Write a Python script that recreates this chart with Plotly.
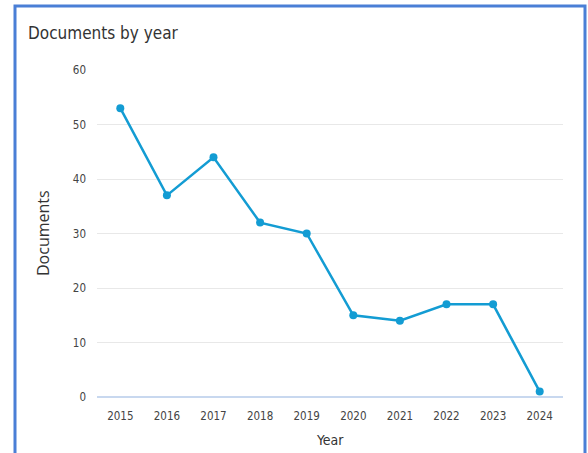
import plotly.graph_objects as go

years = ["2015", "2016", "2017", "2018", "2019", "2020", "2021", "2022", "2023", "2024"]
documents = [53, 37, 44, 32, 30, 15, 14, 17, 17, 1]
y_ticks = [0, 10, 20, 30, 40, 50, 60]

FONT = "DejaVu Sans Condensed, Liberation Sans Narrow, Open Sans, sans-serif"
LINE_COLOR = "#139cd3"

fig = go.Figure()
fig.add_trace(go.Scatter(
    x=years, y=documents, mode="lines+markers",
    line=dict(color=LINE_COLOR, width=2.5),
    marker=dict(color=LINE_COLOR, size=8),
    showlegend=False,
))

L, R, T, B = 97, 25, 70, 56
W, H = 588, 453
pw, ph = W - L - R, H - T - B

fig.update_layout(
    width=W, height=H,
    margin=dict(l=L, r=R, t=T, b=B),
    paper_bgcolor="white", plot_bgcolor="white",
    font=dict(family=FONT, color="#444", size=12),
    title=dict(text="Documents by year", x=28 / W, xref="container",
               xanchor="left", y=1 - 33 / H, yanchor="middle",
               font=dict(family=FONT, size=17, color="#333")),
    xaxis=dict(type="category", range=[-0.5, len(years) - 0.5],
               showgrid=False, zeroline=False, showline=False,
               ticks="", tickfont=dict(size=11.5, color="#444"), ticklabelstandoff=10),
    yaxis=dict(range=[0, 60], tickvals=y_ticks, showgrid=True, gridcolor="#e8e8e8",
               gridwidth=1, zeroline=True, zerolinecolor="#c8d8ef", zerolinewidth=2,
               showline=False, ticks="", tickfont=dict(size=11.5, color="#444"),
               ticklabelstandoff=10),
    annotations=[
        dict(text="Documents", xref="paper", yref="paper", x=(43 - L) / pw,
             y=(H - B - 233) / ph, textangle=-90, showarrow=False,
             xanchor="center", yanchor="middle",
             font=dict(family="Open Sans, sans-serif", size=16, color="#333")),
        dict(text="Year", xref="paper", yref="paper", x=0.5,
             y=(H - B - 440) / ph, showarrow=False, xanchor="center", yanchor="middle",
             font=dict(family=FONT, size=14, color="#333")),
    ],
    shapes=[dict(type="rect", xref="paper", yref="paper",
                 x0=(15 - L) / pw, x1=(585 - L) / pw,
                 y0=(H - B - 470) / ph, y1=(H - B - 6) / ph,
                 line=dict(color="#4a7fd6", width=3), fillcolor="rgba(0,0,0,0)",
                 layer="below")],
)

fig.write_html("out.html", config={"displayModeBar": False},
               post_script="document.body.style.margin='0';document.body.style.padding='0';")
